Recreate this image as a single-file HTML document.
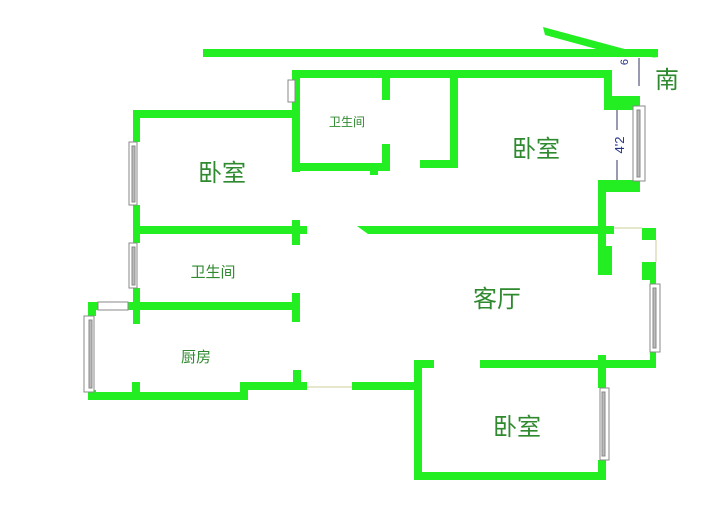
<!DOCTYPE html>
<html><head><meta charset="utf-8"><style>
body{margin:0;background:#fff;width:720px;height:510px;overflow:hidden}
</style></head><body>
<svg width="720" height="510" xmlns="http://www.w3.org/2000/svg" font-family="Liberation Sans, Noto Sans CJK SC, sans-serif">
<g fill="#22ee22">
<!-- arrow -->
<rect x="203" y="49" width="455" height="8"/>
<polygon points="543,27 545,35 600,50 658,58"/>
<!-- top walls -->
<rect x="292" y="70" width="320" height="8"/>
<rect x="604" y="70" width="8" height="34"/>
<rect x="604" y="96" width="36" height="14"/>
<rect x="292" y="70" width="8" height="102"/>
<rect x="133" y="110" width="167" height="8"/>
<rect x="292" y="163" width="98" height="8"/>
<rect x="370" y="163" width="8" height="12"/>
<rect x="382" y="78" width="8" height="22"/>
<rect x="382" y="144" width="8" height="27"/>
<rect x="450" y="78" width="8" height="90"/>
<rect x="420" y="160" width="38" height="8"/>
<!-- left bedroom -->
<rect x="133" y="110" width="7" height="32"/>
<rect x="133" y="205" width="7" height="38"/>
<rect x="133" y="226" width="167" height="8"/>
<rect x="292" y="220" width="8" height="25"/>
<rect x="300" y="226" width="7" height="8"/>
<polygon points="357,226 612,226 612,234 368,234"/>
<!-- right upper bedroom -->
<rect x="598" y="180" width="42" height="12"/>
<rect x="598" y="180" width="8" height="95"/>
<rect x="606" y="246" width="6" height="29"/>
<rect x="606" y="226" width="8" height="8"/>
<rect x="642" y="228" width="14" height="12"/>
<rect x="642" y="262" width="14" height="18"/>
<rect x="650" y="262" width="6" height="22"/>
<rect x="650" y="352" width="6" height="16"/>
<rect x="480" y="360" width="176" height="8"/>
<rect x="598" y="355" width="8" height="33"/>
<rect x="598" y="460" width="8" height="20"/>
<rect x="414" y="472" width="192" height="8"/>
<rect x="414" y="360" width="8" height="120"/>
<rect x="414" y="360" width="20" height="8"/>
<rect x="352" y="382" width="70" height="8"/>
<!-- bath / kitchen -->
<rect x="133" y="288" width="7" height="36"/>
<rect x="88" y="302" width="212" height="8"/>
<rect x="292" y="293" width="8" height="29"/>
<rect x="88" y="302" width="8" height="14"/>
<rect x="88" y="390" width="8" height="10"/>
<rect x="88" y="392" width="160" height="8"/>
<rect x="240" y="382" width="8" height="18"/>
<rect x="240" y="382" width="67" height="8"/>
<rect x="293" y="370" width="8" height="20"/>
<rect x="132" y="382" width="8" height="12"/>
</g>
<!-- windows -->
<g fill="#fff" stroke="#888" stroke-width="1">
<rect x="129" y="142" width="8" height="63"/><rect x="132" y="146" width="3" height="56" fill="#bbb"/>
<rect x="129" y="243" width="8" height="45"/><rect x="132" y="247" width="3" height="38" fill="#bbb"/>
<rect x="84" y="316" width="10" height="76"/><rect x="89" y="320" width="3" height="68" fill="#bbb"/>
<rect x="98" y="302" width="30" height="8"/>
<rect x="288" y="80" width="7" height="22"/>
<rect x="633" y="106" width="12" height="75"/><rect x="637" y="110" width="3" height="67" fill="#bbb"/>
<rect x="650" y="284" width="10" height="68"/><rect x="653" y="288" width="3" height="60" fill="#bbb"/>
<rect x="600" y="388" width="9" height="72"/><rect x="602" y="392" width="3" height="64" fill="#bbb"/>
</g>
<line x1="307" y1="387" x2="352" y2="387" stroke="#cc9" stroke-width="1"/>
<line x1="614" y1="228" x2="642" y2="228" stroke="#cc9" stroke-width="1"/>
<line x1="656" y1="240" x2="656" y2="262" stroke="#cc9" stroke-width="1"/>
<line x1="617" y1="110" x2="617" y2="130" stroke="#336" stroke-width="1"/>
<line x1="617" y1="160" x2="617" y2="180" stroke="#336" stroke-width="1"/>
<line x1="639" y1="58" x2="639" y2="86" stroke="#336" stroke-width="1"/>
<text x="624" y="145" transform="rotate(-90 624 145)" font-size="13" fill="#223388" text-anchor="middle">4'2</text>
<text x="628" y="62" transform="rotate(-90 628 62)" font-size="11" fill="#223388" text-anchor="middle">6</text>
<g fill="#2f8a2f" text-anchor="middle">
<text x="222" y="181" font-size="24">卧室</text>
<text x="347" y="126" font-size="12">卫生间</text>
<text x="536" y="157" font-size="24">卧室</text>
<text x="213" y="277" font-size="15">卫生间</text>
<text x="497" y="307" font-size="24">客厅</text>
<text x="196" y="362" font-size="15">厨房</text>
<text x="517" y="435" font-size="24">卧室</text>
<text x="667" y="88" font-size="24">南</text>
</g>
</svg>
</body></html>
